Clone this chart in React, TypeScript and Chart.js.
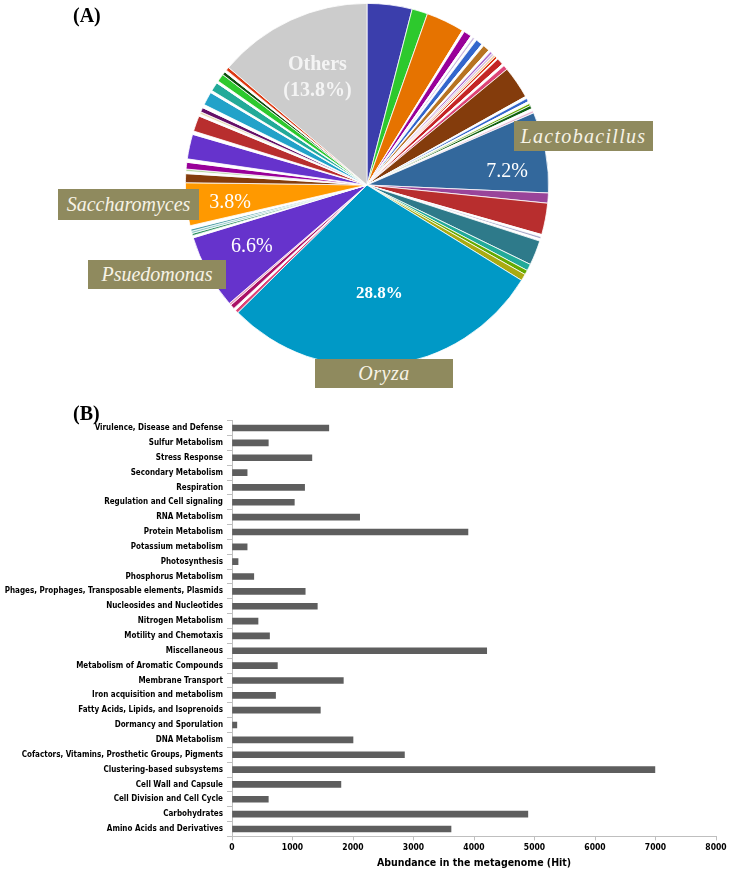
import React, { useEffect, useRef } from "react";
import { Chart, registerables } from "chart.js";
Chart.register(...registerables);

// ---------- Pie (A) data: clockwise from 12 o'clock ----------
const pieLabels = [
  "t1", "t2", "t3", "g1", "t4", "g2", "t5", "g3", "t6", "g4", "t7", "g5", "t8", "t9", "t10", "t11", "g6", "t12", "g7", "t13",
  "t14", "g8", "t15", "g9", "t16", "t17", "g10", "t18",
  "Lactobacillus",
  "t19", "t20", "g11", "t21", "g12", "t22", "t23", "t24", "t25",
  "Oryza",
  "t26", "g13", "t27", "t28",
  "Psuedomonas",
  "g14", "t29", "t30", "t31", "g15",
  "Saccharomyces",
  "t32", "g16", "t33", "t34", "g17", "t35", "g18", "t36", "g19", "t37", "t38", "g20", "t39", "g21", "t40", "g22", "t41", "t42", "g23", "t43",
  "Others",
];
const pieValues = [
  4.0, 1.4, 3.4, 0.2, 0.7, 0.2, 0.2, 0.2, 0.6, 0.2, 0.6, 0.2, 0.2, 0.2, 0.2, 0.2, 0.1, 0.6, 0.2, 0.4,
  2.9, 0.2, 0.3, 0.2, 0.2, 0.3, 0.2, 0.2,
  7.2,
  0.9, 2.8, 0.2, 0.2, 0.2, 2.2, 0.6, 0.4, 0.6,
  28.8,
  0.3, 0.2, 0.4, 0.2,
  6.6,
  0.2, 0.2, 0.2, 0.2, 0.3,
  3.8,
  0.8, 0.2, 0.2, 0.6, 0.3, 2.2, 0.3, 1.4, 0.2, 0.2, 0.4, 0.3, 1.2, 0.2, 0.8, 0.2, 0.7, 0.3, 0.2, 0.3,
  13.8,
];
const pieColors = [
  "#3B3EAC", "#2DC92D", "#E67300", "#FFFFFF", "#990099", "#FFFFFF", "#C9B8E0", "#FFFFFF", "#3366CC", "#FFFFFF", "#B77322", "#FFFFFF", "#AA66CC", "#D9C3E6", "#F2D2A9", "#DC3912", "#FFFFFF", "#C42525", "#FFFFFF", "#DD4477",
  "#843C0C", "#FFFFFF", "#3366CC", "#FFFFFF", "#66AA00", "#106010", "#FFFFFF", "#E7B6D0",
  "#33689C",
  "#994499", "#B82E2E", "#FFFFFF", "#A9A9C9", "#FFFFFF", "#2E7A8A", "#22AA99", "#66AA00", "#AAAA11",
  "#0099C6",
  "#DD4477", "#FFFFFF", "#AA1166", "#E7A0C0",
  "#6633CC",
  "#FFFFFF", "#329262", "#8FC9C9", "#4FA0A8", "#FFFFFF",
  "#FF9900",
  "#843C0C", "#FFFFFF", "#B5D6A0", "#990099", "#FFFFFF", "#6633CC", "#FFFFFF", "#B82E2E", "#FFFFFF", "#E8D9B0", "#651067", "#FFFFFF", "#22A2C9", "#FFFFFF", "#22AA99", "#FFFFFF", "#2DC92D", "#0F4F0F", "#FFFFFF", "#DC3912",
  "#CCCCCC",
];

// ---------- Bar (B) data: top to bottom ----------
const barCategories = [
  "Virulence, Disease and Defense",
  "Sulfur Metabolism",
  "Stress Response",
  "Secondary Metabolism",
  "Respiration",
  "Regulation and Cell signaling",
  "RNA Metabolism",
  "Protein Metabolism",
  "Potassium metabolism",
  "Photosynthesis",
  "Phosphorus Metabolism",
  "Phages, Prophages, Transposable elements, Plasmids",
  "Nucleosides and Nucleotides",
  "Nitrogen Metabolism",
  "Motility and Chemotaxis",
  "Miscellaneous",
  "Metabolism of Aromatic Compounds",
  "Membrane Transport",
  "Iron acquisition and metabolism",
  "Fatty Acids, Lipids, and Isoprenoids",
  "Dormancy and Sporulation",
  "DNA Metabolism",
  "Cofactors, Vitamins, Prosthetic Groups, Pigments",
  "Clustering-based subsystems",
  "Cell Wall and Capsule",
  "Cell Division and Cell Cycle",
  "Carbohydrates",
  "Amino Acids and Derivatives",
];
const barValues = [
  1600, 600, 1320, 250, 1200, 1030, 2110, 3900, 250, 100, 360, 1210, 1410, 430, 620,
  4210, 750, 1840, 720, 1460, 80, 2000, 2850, 6990, 1800, 600, 4890, 3620,
];
const xAxisMin = 0;
const xAxisMax = 8000;
const xAxisStep = 1000;
const xAxisTitle = "Abundance in the metagenome (Hit)";

// percent labels drawn on slices
const sliceLabels = [
  { name: "Others", lines: ["Others", "(13.8%)"], rFrac: 0.65, dAngle: 0, font: "bold 20px 'Liberation Serif', serif", color: "#F4F4F4", lh: 26 },
  { name: "Lactobacillus", lines: ["7.2%"], rFrac: 0.775, dAngle: 5, font: "20px 'Liberation Serif', serif", color: "#FFFFFF", lh: 22 },
  { name: "Oryza", lines: ["28.8%"], rFrac: 0.6, dAngle: 0, font: "bold 17px 'Liberation Serif', serif", color: "#FFFFFF", lh: 20 },
  { name: "Psuedomonas", lines: ["6.6%"], rFrac: 0.72, dAngle: 0.5, font: "20px 'Liberation Serif', serif", color: "#FFFFFF", lh: 22 },
  { name: "Saccharomyces", lines: ["3.8%"], rFrac: 0.76, dAngle: -1.2, font: "20px 'Liberation Serif', serif", color: "#FFFFFF", lh: 22 },
];

const nameBoxes = [
  { text: "Lactobacillus", left: 514, top: 121, width: 139, height: 30, spacing: 1.3 },
  { text: "Saccharomyces", left: 58, top: 189, width: 141, height: 31, spacing: 0 },
  { text: "Psuedomonas", left: 88, top: 260, width: 138, height: 29, spacing: 0 },
  { text: "Oryza", left: 315, top: 359, width: 138, height: 29, spacing: 0.5 },
];

const sliceLabelPlugin = {
  id: "sliceLabels",
  afterDatasetsDraw(chart: any) {
    const meta = chart.getDatasetMeta(0);
    const ctx = chart.ctx;
    ctx.save();
    ctx.textAlign = "center";
    ctx.textBaseline = "middle";
    for (const s of sliceLabels) {
      const idx = pieLabels.indexOf(s.name);
      const arc = meta.data[idx];
      if (!arc) continue;
      const p = arc.getProps(["startAngle", "endAngle", "x", "y", "outerRadius"], true);
      const mid = (p.startAngle + p.endAngle) / 2 + (s.dAngle * Math.PI) / 180;
      const r = p.outerRadius * s.rFrac;
      const cx = p.x + Math.cos(mid) * r;
      const cy = p.y + Math.sin(mid) * r;
      ctx.font = s.font;
      ctx.fillStyle = s.color;
      const n = s.lines.length;
      s.lines.forEach((t, i) => {
        ctx.fillText(t, cx, cy + (i - (n - 1) / 2) * s.lh);
      });
    }
    ctx.restore();
  },
};

export default function App() {
  const pieRef = useRef<HTMLCanvasElement | null>(null);
  const barRef = useRef<HTMLCanvasElement | null>(null);

  useEffect(() => {
    const pie = new Chart(pieRef.current as HTMLCanvasElement, {
      type: "pie",
      data: {
        labels: pieLabels,
        datasets: [
          {
            data: pieValues,
            backgroundColor: pieColors,
            borderColor: "#FFFFFF",
            borderWidth: 0.8,
          },
        ],
      },
      options: {
        responsive: false,
        animation: false,
        layout: { padding: { left: 185, right: 181, top: 3, bottom: 28 } },
        plugins: { legend: { display: false }, tooltip: { enabled: false } },
      },
      plugins: [sliceLabelPlugin],
    });

    const tickFont = { family: "'DejaVu Sans Condensed', 'Liberation Sans', sans-serif", weight: "bold" as const };
    const bar = new Chart(barRef.current as HTMLCanvasElement, {
      type: "bar",
      data: {
        labels: barCategories,
        datasets: [
          {
            data: barValues,
            backgroundColor: "#5E5E5E",
            borderWidth: 0,
            barThickness: 6,
          },
        ],
      },
      options: {
        indexAxis: "y",
        responsive: false,
        animation: false,
        layout: { padding: { left: 0, right: 14, top: 25.6, bottom: 0 } },
        plugins: { legend: { display: false }, tooltip: { enabled: false } },
        scales: {
          x: {
            min: xAxisMin,
            max: xAxisMax,
            ticks: {
              stepSize: xAxisStep,
              color: "#000",
              font: { ...tickFont, size: 8.5 },
              padding: 2,
              maxRotation: 0,
              callback: (v: any) => String(v),
            },
            grid: { display: true, drawOnChartArea: false, drawTicks: true, tickLength: 4, color: "#BFBFBF" },
            border: { display: true, color: "#BFBFBF" },
            title: { display: true, text: xAxisTitle, color: "#000", font: { ...tickFont, size: 10.5 }, padding: { top: 0, bottom: 13.5 } },
            afterFit: (scale: any) => {
              scale.height = 46.6;
            },
          },
          y: {
            ticks: { color: "#000", font: { ...tickFont, size: 8 }, padding: 4, autoSkip: false },
            grid: { display: true, drawOnChartArea: false, drawTicks: true, tickLength: 5, color: "#BFBFBF", offset: true },
            border: { display: true, color: "#BFBFBF" },
            afterFit: (scale: any) => {
              scale.width = 232;
            },
          },
        },
      },
    });

    return () => {
      pie.destroy();
      bar.destroy();
    };
  }, []);

  const serif = "'Liberation Serif', 'Times New Roman', serif";
  return (
    <div style={{ position: "absolute", left: 0, top: 0, width: 730, height: 883, background: "#FFFFFF", overflow: "hidden" }}>
      <canvas ref={pieRef} width={730} height={395} style={{ position: "absolute", left: 0, top: 0, width: 730, height: 395 }} />
      <canvas ref={barRef} width={730} height={488} style={{ position: "absolute", left: 0, top: 395, width: 730, height: 488 }} />
      <div style={{ position: "absolute", left: 73, top: 4, fontFamily: serif, fontWeight: "bold", fontSize: 20, lineHeight: "22px", color: "#000" }}>(A)</div>
      <div style={{ position: "absolute", left: 73, top: 402, fontFamily: serif, fontWeight: "bold", fontSize: 20, lineHeight: "22px", color: "#000" }}>(B)</div>
      {nameBoxes.map((b) => (
        <div
          key={b.text}
          style={{
            position: "absolute",
            left: b.left,
            top: b.top,
            width: b.width,
            height: b.height,
            background: "#8F8A5E",
            display: "flex",
            alignItems: "center",
            justifyContent: "center",
            fontFamily: serif,
            fontStyle: "italic",
            fontSize: 20,
            letterSpacing: b.spacing,
            color: "#F7F3E6",
          }}
        >
          {b.text}
        </div>
      ))}
    </div>
  );
}
